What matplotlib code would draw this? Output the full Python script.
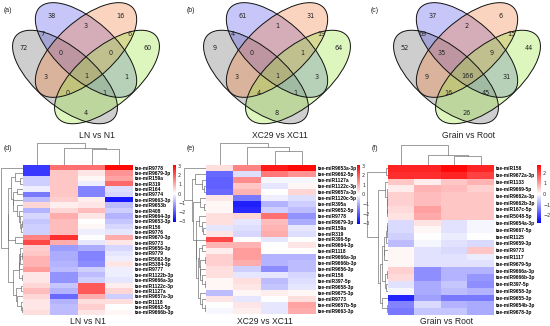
import numpy as np
import matplotlib.pyplot as plt
from matplotlib.patches import Ellipse
from matplotlib.colors import LinearSegmentedColormap

W, H = 550, 326

# ---- Venn counts: regions A(grey) B(blue) C(orange) D(green)
venn_regions = ['A', 'B', 'C', 'D', 'AB', 'CD', 'BC', 'ABC', 'BCD', 'AC',
                'ABCD', 'BD', 'ACD', 'ABD', 'AD']
venn_ln = [72, 38, 16, 60, 7, 6, 3, 0, 0, 3, 1, 1, 0, 1, 4]
venn_xc = [9, 61, 31, 64, 4, 19, 1, 0, 1, 3, 1, 3, 4, 1, 8]
venn_gr = [52, 37, 6, 44, 69, 15, 2, 35, 9, 9, 166, 31, 16, 45, 26]
titles = ['LN vs N1', 'XC29 vs XC11', 'Grain vs Root']

# column tree seen in all three heatmaps: (1, (2, (3, 4)))
col_merges = [([2], [3]), ([1], [2, 3]), ([0], [1, 2, 3])]

# ---- heatmap (d) LN vs N1
rows_d = ['tae-miR9778', 'tae-miR9679-3p', 'tae-miR159a', 'tae-miR319', 'tae-miR164',
          'tae-miR9774', 'tae-miR9663-3p', 'tae-miR9653b', 'tae-miR408', 'tae-miR9664-3p',
          'tae-miR9653-3p', 'tae-miR156', 'tae-miR9776', 'tae-miR9670-3p', 'tae-miR9773',
          'tae-miR9656-3p', 'tae-miR9779', 'tae-miR5062-5p', 'tae-miR5384-3p', 'tae-miR9777',
          'tae-miR1122b-3p', 'tae-miR9666a-3p', 'tae-miR1122c-3p', 'tae-miR1127a',
          'tae-miR9657a-3p', 'tae-miR1118', 'tae-miR9662-5p', 'tae-miR9666b-3p']
vals_d = [[-2.4, 1.7, 1.7, 3.0], [-2.4, 0.7, 0.3, 1.3], [-0.6, 0.7, 0.1, 1.1],
          [-0.6, 0.7, -0.2, 1.8], [-0.2, 0.7, -1.5, -0.4], [-1.6, 0.7, -1.5, -0.5],
          [-0.8, 0.6, 0.2, -2.8], [0.5, 0.2, 0.3, -0.8], [-0.9, 0.5, 0.8, -0.6],
          [-0.5, 1.0, 0.3, -0.9], [-0.7, 0.8, 0.0, -0.7], [-0.6, 0.8, 0.1, -0.5],
          [-0.6, 0.8, -0.2, -0.3], [1.5, 2.5, 0.0, 1.0], [2.2, 1.0, -0.3, 0.3],
          [0.6, -1.2, -1.0, -0.5], [0.7, -1.0, -1.5, -0.3], [0.9, -1.0, -1.5, -0.2],
          [0.9, -0.9, -1.4, 0.3], [1.2, -0.8, -0.6, -0.2], [0.3, -1.3, -0.8, -0.2],
          [0.3, -1.3, -0.6, -0.3], [0.5, -0.7, 2.0, 0.2], [0.8, -0.9, 2.0, 0.5],
          [0.5, -1.8, 1.0, -0.6], [0.3, -0.9, 0.4, 0.4], [0.3, -0.8, 0.6, 0.0],
          [0.4, -0.8, 0.3, 0.1]]

# ---- heatmap (e) XC29 vs XC11
rows_e = ['tae-miR9653a-3p', 'tae-miR9662-5p', 'tae-miR1127a', 'tae-miR1122c-3p',
          'tae-miR9657a-3p', 'tae-miR1120c-5p', 'tae-miR395a', 'tae-miR9652-5p',
          'tae-miR9778', 'tae-miR9679-3p', 'tae-miR159a', 'tae-miR319', 'tae-miR396-5p',
          'tae-miR9664-3p', 'tae-miR1118', 'tae-miR9666a-3p', 'tae-miR9666b-3p',
          'tae-miR9656-3p', 'tae-miR156', 'tae-miR397-5p', 'tae-miR9658-3p',
          'tae-miR9675-3p', 'tae-miR9773', 'tae-miR9657b-5p', 'tae-miR9663-3p']
vals_e = [[0.4, 1.5, 2.8, 3.0], [-1.8, -0.4, 1.6, 1.3], [-1.9, 1.4, -0.1, -0.1],
          [-1.9, 0.7, -0.3, 0.1], [-1.8, 0.9, 0.0, 0.5], [0.3, -1.6, -0.2, -0.4],
          [0.1, -2.7, -0.9, -0.6], [0.1, -2.6, -0.6, -0.8], [0.4, 0.5, 1.7, -1.3],
          [0.4, -0.3, 0.8, -1.0], [-0.3, -0.4, 0.9, -0.3], [0.3, -0.5, 1.0, -0.4],
          [2.2, 0.0, -0.3, 0.0], [0.9, 0.9, 0.0, 0.3], [0.2, 1.2, 0.0, 0.0],
          [0.6, 1.2, -0.9, -0.9], [0.6, 1.0, -0.9, -0.8], [0.4, -0.6, -1.4, -0.8],
          [0.4, -0.3, -0.3, -0.5], [0.1, 0.4, -0.8, -0.4], [0.1, 0.3, -0.7, -0.3],
          [-0.8, 0.1, 0.2, 0.1], [0.3, -0.3, 0.0, 0.4], [0.0, 0.3, -0.3, 1.1],
          [-0.1, 0.2, -0.3, 1.0]]

# ---- heatmap (f) Grain vs Root
rows_f = ['tae-miR156', 'tae-miR9672a-3p', 'tae-miR1133', 'tae-miR9669-5p',
          'tae-miR9662a-3p', 'tae-miR9662b-3p', 'tae-miR167c-5p', 'tae-miR5048-5p',
          'tae-miR9654a-3p', 'tae-miR9667-5p', 'tae-miR1125', 'tae-miR9659-3p',
          'tae-miR9773', 'tae-miR1117', 'tae-miR9679-5p', 'tae-miR9666a-3p',
          'tae-miR9666b-3p', 'tae-miR397-5p', 'tae-miR9658-3p', 'tae-miR9655-3p',
          'tae-miR9654b-3p', 'tae-miR9678-3p']
vals_f = [[2.3, 2.3, 2.6, 2.3], [2.2, 2.2, 2.3, 2.0], [0.6, 0.2, 0.6, 0.8],
          [0.2, 0.8, 0.7, 0.5], [0.5, 0.7, 0.6, 0.6], [0.5, 0.7, 0.6, 0.6],
          [0.4, 1.0, 0.6, 0.6], [0.3, 0.9, 0.6, 0.6], [-0.4, 0.3, -0.3, -0.1],
          [-0.4, 0.1, -0.3, -0.1], [-0.5, 0.0, -0.2, 0.0], [-0.7, -0.1, -0.3, -0.4],
          [0.1, -0.3, -0.4, 0.6], [0.1, -0.3, -0.3, -0.2], [0.1, -0.3, -0.3, -0.3],
          [0.5, -1.2, -0.8, -0.8], [0.4, -1.2, -0.8, -1.1], [-0.3, -0.9, -0.6, -1.2],
          [-0.1, -0.9, -0.7, -0.8], [-2.3, -1.0, -1.4, -1.4], [-1.3, -0.4, -0.8, -0.9],
          [-1.4, -0.6, -0.6, -0.9]]

fig = plt.figure(figsize=(W / 100, H / 100), dpi=100)
bg = fig.add_axes([0, 0, 1, 1])
bg.set_xlim(0, W)
bg.set_ylim(H, 0)
bg.axis('off')


def px_axes(x0, y0, x1, y1):
    return fig.add_axes([x0 / W, 1 - y1 / H, (x1 - x0) / W, (y1 - y0) / H])


# ---------------- Venn diagrams ----------------
fills = [('#808080', 0.38), ('#4545e8', 0.30), ('#f27a35', 0.32), ('#9be643', 0.35)]
label_pos = {'A': (-62, 48), 'B': (-34, 16), 'C': (34, 16), 'D': (62, 48),
             'AB': (-44, 34), 'CD': (44, 34), 'BC': (0, 26), 'ABC': (-25, 53),
             'BCD': (25, 53), 'AC': (-40, 77), 'ABCD': (0, 76), 'BD': (40, 77),
             'ACD': (-18.5, 93), 'ABD': (18.5, 93), 'AD': (0, 113)}


def venn(cx, counts, title, tx, letter, lx):
    shapes = [((cx - 21, 77), 128, 58, 40), ((cx, 50), 126, 58, 42),
              ((cx, 50), 126, 58, -42), ((cx + 21, 77), 128, 58, -40)]
    for (c, w, h, ang), (col, al) in zip(shapes, fills):
        bg.add_patch(Ellipse(c, w, h, angle=ang, facecolor=col, alpha=al,
                             edgecolor='none'))
    for c, w, h, ang in shapes:
        bg.add_patch(Ellipse(c, w, h, angle=ang, fill=False, edgecolor='#111111',
                             linewidth=0.7))
    for reg, n in zip(venn_regions, counts):
        dx, y = label_pos[reg]
        bg.text(cx + dx, y, str(n), ha='center', va='center', fontsize=4.7,
                color='#222222')
    bg.text(tx, 136, title, ha='center', va='center', fontsize=6.2,
            family='Liberation Sans', color='#222222')
    bg.text(lx, 10, letter, ha='left', va='center', fontsize=5,
            family='Liberation Sans', color='#222222')


venn(86, venn_ln, titles[0], 97, '(a)', 4)
venn(277, venn_xc, titles[1], 280, '(b)', 187)
venn(467, venn_gr, titles[2], 468, '(c)', 371)


# ---------------- heatmaps ----------------
cmap = LinearSegmentedColormap.from_list('bwr2', ['#0000ff', '#ffffff', '#ff0000'])


def dist_matrix(X):
    return np.sqrt(((X[:, None, :] - X[None, :, :]) ** 2).sum(-1))


def chain_linkage(X):
    # average linkage where only neighbouring clusters may merge (keeps order)
    D = dist_matrix(X)
    cl = [[i] for i in range(len(X))]
    pos = [float(i) for i in range(len(X))]
    hts = [0.0] * len(X)
    merges = []
    while len(cl) > 1:
        d = [D[np.ix_(cl[k], cl[k + 1])].mean() for k in range(len(cl) - 1)]
        k = int(np.argmin(d))
        h = max(d[k], hts[k], hts[k + 1])
        merges.append((pos[k], hts[k], pos[k + 1], hts[k + 1], h))
        cl[k:k + 2] = [cl[k] + cl[k + 1]]
        pos[k:k + 2] = [(pos[k] + pos[k + 1]) / 2]
        hts[k:k + 2] = [h]
    return merges


def tree_linkage(X, tree):
    # average linkage heights for a given merge sequence
    D = dist_matrix(X)
    pos = {(i,): float(i) for i in range(len(X))}
    hts = {(i,): 0.0 for i in range(len(X))}
    merges = []
    for a, b in tree:
        a, b = tuple(a), tuple(b)
        h = max(D[np.ix_(a, b)].mean(), hts[a], hts[b])
        merges.append((pos[a], hts[a], pos[b], hts[b], h))
        pos[a + b] = (pos[a] + pos[b]) / 2
        hts[a + b] = h
    return merges


def heatmap(box, rdend_x0, cdend_y0, cbar, vlim, ticks, rows, vals, title, tpos, letter, lx):
    x0, y0, x1, y1 = box
    data = np.array(vals)
    nr, nc = data.shape
    ax = px_axes(x0, y0, x1, y1)
    im = ax.imshow(data, cmap=cmap, vmin=-vlim, vmax=vlim, aspect='auto',
                   interpolation='nearest')
    ax.set_xticks([])
    ax.yaxis.tick_right()
    ax.set_yticks(range(nr))
    ax.set_yticklabels(rows, fontsize=3.5, fontweight='bold', family='Liberation Sans')
    ax.tick_params(axis='y', length=0, pad=1.5)
    for s in ax.spines.values():
        s.set_visible(False)

    # row dendrogram
    rd = px_axes(rdend_x0, y0, x0, y1)
    m = chain_linkage(data)
    hmax = max(t[4] for t in m)
    for p1, h1, p2, h2, h in m:
        rd.plot([h1, h, h, h2], [p1, p1, p2, p2], color='#666666', lw=0.45)
    rd.set_ylim(nr - 0.5, -0.5)
    rd.set_xlim(hmax * 1.01, 0)
    rd.axis('off')

    # column dendrogram
    cd = px_axes(x0, cdend_y0, x1, y0)
    m = tree_linkage(data.T, col_merges)
    hmax = max(t[4] for t in m)
    for p1, h1, p2, h2, h in m:
        cd.plot([p1, p1, p2, p2], [h1, h, h, h2], color='#666666', lw=0.45)
    cd.set_xlim(-0.5, nc - 0.5)
    cd.set_ylim(0, hmax * 1.01)
    cd.axis('off')

    # colour key
    cx0, cy0, cx1, cy1 = cbar
    cax = px_axes(cx0, cy0, cx1, cy1)
    cb = fig.colorbar(im, cax=cax, ticks=ticks)
    cb.outline.set_visible(False)
    cb.ax.tick_params(length=0, labelsize=3.5, pad=1.5, labelcolor='#333333')

    bg.text(tpos[0], tpos[1], title, ha='center', va='center', fontsize=6.2,
            family='Liberation Sans', color='#222222')
    bg.text(lx, 148, letter, ha='left', va='center', fontsize=5,
            family='Liberation Sans', color='#222222')


heatmap((23, 165, 133, 315), 1, 143, (173, 165, 176, 222), 3.1, [-3, -2, -1, 0, 1, 2, 3],
        rows_d, vals_d, titles[0], (88, 322), '(d)', 4)
heatmap((206, 165, 316, 314), 184, 143, (357, 165, 360, 224), 3.1, [-3, -2, -1, 0, 1, 2, 3],
        rows_e, vals_e, titles[1], (265, 322), '(e)', 187)
heatmap((388, 165, 494, 315), 367, 145, (537, 165, 541, 223), 2.7, [-2, -1, 0, 1, 2],
        rows_f, vals_f, titles[2], (446, 321), '(f)', 372)

fig.savefig('out.png', dpi=100)
